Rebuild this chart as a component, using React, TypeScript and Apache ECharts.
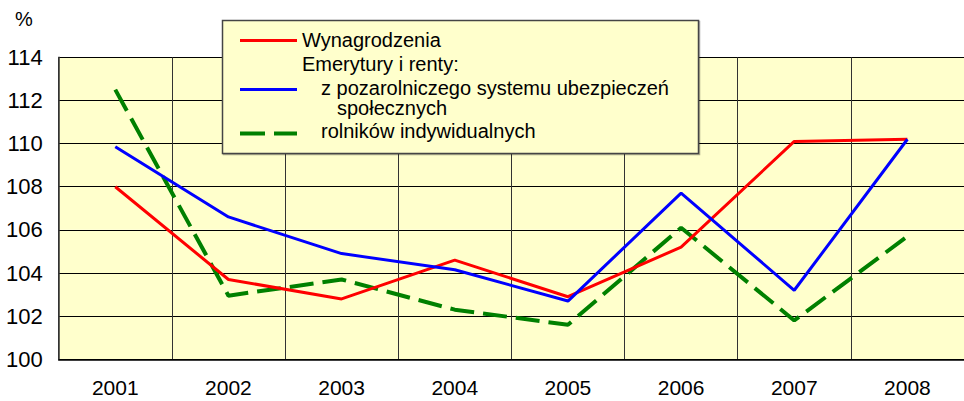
import React, { useEffect, useRef } from "react";
import * as echarts from "echarts";

const years = ["2001", "2002", "2003", "2004", "2005", "2006", "2007", "2008"];
const wynagrodzenia = [108.0, 103.7, 102.8, 104.6, 102.9, 105.2, 110.1, 110.2];
const pozarolniczy = [109.85, 106.6, 104.9, 104.15, 102.7, 107.7, 103.2, 110.2];
const rolnicy = [112.5, 102.95, 103.7, 102.3, 101.6, 106.1, 101.8, 105.7];

const FONT = "Liberation Sans, Arial, sans-serif";

export default function App() {
  const ref = useRef<HTMLDivElement>(null);
  useEffect(() => {
    const chart = echarts.init(ref.current!, null, { renderer: "svg" });
    const legendText = (text: string, x: number, y: number) => ({
      type: "text",
      x,
      y,
      z: 101,
      style: { text, fill: "#000", font: `20px ${FONT}`, textVerticalAlign: "middle" },
    });
    const legendLine = (y: number, color: string, dash?: number[], width = 3) => ({
      type: "line",
      z: 101,
      shape: { x1: 240, y1: y, x2: 297, y2: y },
      style: { stroke: color, lineWidth: width, lineDash: dash },
    });
    chart.setOption({
      animation: false,
      backgroundColor: "#fff",
      grid: { left: 58.7, top: 57.3, width: 916, height: 302, containLabel: false },
      xAxis: {
        type: "category",
        data: years,
        boundaryGap: true,
        axisLine: { show: true, lineStyle: { color: "#000", width: 1.5 } },
        axisTick: { show: false },
        axisLabel: { color: "#000", fontSize: 21, fontFamily: FONT, margin: 18 },
        splitLine: { show: true, interval: 0, lineStyle: { color: "#333", width: 1 } },
      },
      yAxis: {
        type: "value",
        min: 100,
        max: 114,
        interval: 2,
        axisLine: { show: true, lineStyle: { color: "#333", width: 1.5 } },
        axisTick: { show: false },
        axisLabel: { color: "#000", fontSize: 22, fontFamily: FONT, margin: 16 },
        splitLine: { show: true, lineStyle: { color: "#000", width: 1 } },
        splitArea: { show: true, areaStyle: { color: ["#FFFFCC", "#FFFFCC"] } },
      },
      series: [
        {
          name: "Wynagrodzenia",
          type: "line",
          data: wynagrodzenia,
          symbol: "none",
          lineStyle: { color: "#FF0000", width: 3 },
          z: 3,
        },
        {
          name: "z pozarolniczego systemu ubezpieczeń społecznych",
          type: "line",
          data: pozarolniczy,
          symbol: "none",
          lineStyle: { color: "#0000FF", width: 3 },
          z: 4,
        },
        {
          name: "rolników indywidualnych",
          type: "line",
          data: rolnicy,
          symbol: "none",
          lineStyle: { color: "#008000", width: 4, type: [24, 9] },
          z: 2,
        },
      ],
      graphic: [
        {
          type: "text",
          x: 15,
          y: 19,
          style: { text: "%", fill: "#000", font: `20px ${FONT}`, textVerticalAlign: "middle" },
        },
        {
          type: "rect",
          z: 100,
          shape: { x: 222.5, y: 20.5, width: 476, height: 133 },
          style: {
            fill: "#FFFFCC",
            stroke: "#444",
            lineWidth: 1.5,
            shadowColor: "rgba(0,0,0,0.35)",
            shadowOffsetX: 1,
            shadowOffsetY: 1,
            shadowBlur: 1,
          },
        },
        legendLine(40.5, "#FF0000"),
        legendText("Wynagrodzenia", 302, 39.5),
        legendText("Emerytury i renty:", 302, 63.5),
        legendLine(89.5, "#0000FF"),
        legendText("z pozarolniczego systemu ubezpieczeń", 321, 88),
        legendText("społecznych", 337, 108),
        legendLine(133.5, "#008000", [25, 9], 4),
        legendText("rolników indywidualnych", 321, 131),
      ],
    });
    return () => chart.dispose();
  }, []);
  return <div ref={ref} style={{ width: 964, height: 401, position: "absolute", left: 0, top: 0 }} />;
}
